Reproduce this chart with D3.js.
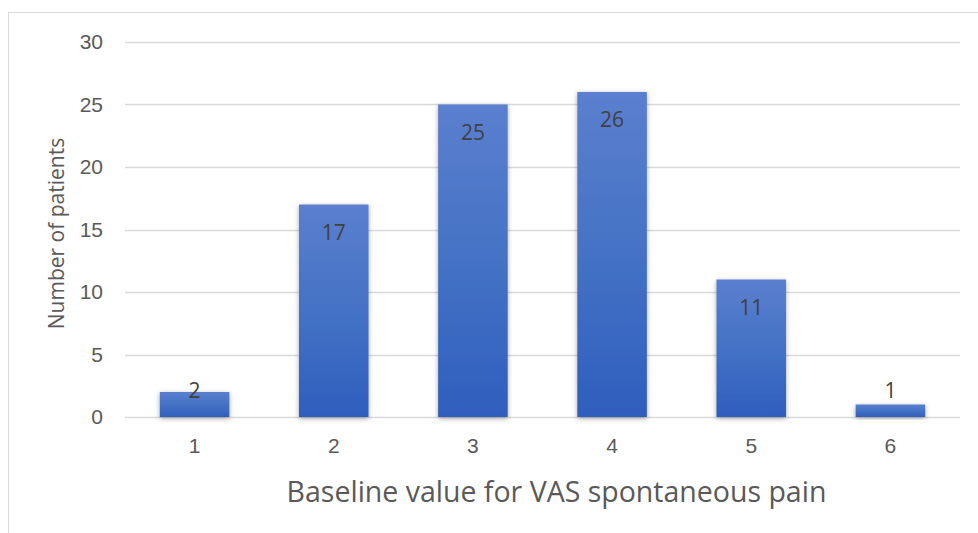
<!DOCTYPE html>
<html>
<head>
<meta charset="utf-8">
<script src="https://cdn.jsdelivr.net/npm/d3@7"></script>
<style>
  html, body { margin: 0; padding: 0; background: #fff; }
  svg { display: block; font-family: "Open Sans", "Noto Sans", "Liberation Sans", sans-serif; }
</style>
</head>
<body>
<svg id="chart" width="978" height="533"></svg>
<script>
// Baseline VAS spontaneous pain score and how many patients had each score
const categories = ["1", "2", "3", "4", "5", "6"];
const patients = [2, 17, 25, 26, 11, 1];
const yTicks = [0, 5, 10, 15, 20, 25, 30];

const svg = d3.select("#chart");
const W = 978, H = 533;
const m = { left: 125, right: 18, top: 42, bottom: 116 };

// Chart area frame
svg.append("rect")
  .attr("x", 8.5).attr("y", 12.5)
  .attr("width", W + 10).attr("height", H + 10)
  .attr("fill", "#fff").attr("stroke", "#d9d9d9").attr("stroke-width", 1);

const x = d3.scaleBand().domain(categories).range([m.left, W - m.right]).paddingInner(0.5).paddingOuter(0.25);
const y = d3.scaleLinear().domain([0, 30]).range([H - m.bottom, m.top]);

const defs = svg.append("defs");
const grad = defs.append("linearGradient").attr("id", "barFill").attr("x1", 0).attr("y1", 0).attr("x2", 0).attr("y2", 1);
grad.append("stop").attr("offset", "0%").attr("stop-color", "#5b7fcf");
grad.append("stop").attr("offset", "50%").attr("stop-color", "#4472c4");
grad.append("stop").attr("offset", "100%").attr("stop-color", "#2f5ebe");

const shadow = defs.append("filter").attr("id", "barShadow")
  .attr("x", "-20%").attr("y", "-20%").attr("width", "140%").attr("height", "140%");
shadow.append("feDropShadow").attr("dx", 0).attr("dy", 1.5).attr("stdDeviation", 2.5)
  .attr("flood-color", "#000").attr("flood-opacity", 0.35);

// Horizontal gridlines
svg.append("g")
  .selectAll("line").data(yTicks).join("line")
  .attr("x1", m.left).attr("x2", W - m.right)
  .attr("y1", d => Math.round(y(d)) + 0.5).attr("y2", d => Math.round(y(d)) + 0.5)
  .attr("stroke", "#d9d9d9").attr("stroke-width", 1.3);

// Y axis tick labels
const yAxis = d3.axisLeft(y).tickValues(yTicks).tickSize(0).tickPadding(0);
const gy = svg.append("g").attr("transform", `translate(${m.left - 22},0)`).call(yAxis);
gy.select(".domain").remove();
gy.selectAll("text").attr("fill", "#595959").style("font-size", "21px").style("font-family", "inherit");

// X axis tick labels
const xAxis = d3.axisBottom(x).tickSize(0).tickPadding(0);
const gx = svg.append("g").attr("transform", `translate(0,${y(0) + 21})`).call(xAxis);
gx.select(".domain").remove();
gx.selectAll("text").attr("fill", "#595959").style("font-size", "21px").style("font-family", "inherit");

// Bars
svg.append("g")
  .selectAll("rect").data(patients).join("rect")
  .attr("x", (d, i) => x(categories[i]))
  .attr("width", x.bandwidth())
  .attr("y", d => y(d))
  .attr("height", d => y(0) - y(d))
  .attr("fill", "url(#barFill)")
  .attr("filter", "url(#barShadow)");

// Value labels near the bar tops
svg.append("g")
  .selectAll("text").data(patients).join("text")
  .attr("x", (d, i) => x(categories[i]) + x.bandwidth() / 2)
  .attr("y", d => Math.min(y(d) + 28, y(0) - 26))
  .attr("dy", "0.35em")
  .attr("text-anchor", "middle")
  .attr("fill", "#404040")
  .style("font-size", "21px")
  .text(d => d);

// Axis titles
svg.append("text")
  .attr("x", (m.left + W - m.right) / 2 + 14).attr("y", 492)
  .attr("dy", "0.35em")
  .attr("text-anchor", "middle")
  .attr("fill", "#595959")
  .style("font-size", "28.5px")
  .text("Baseline value for VAS spontaneous pain");

svg.append("text")
  .attr("transform", `translate(57,${(y(0) + y(30)) / 2 + 4}) rotate(-90)`)
  .attr("dy", "0.35em")
  .attr("text-anchor", "middle")
  .attr("fill", "#595959")
  .style("font-size", "21px")
  .text("Number of patients");
</script>
</body>
</html>
